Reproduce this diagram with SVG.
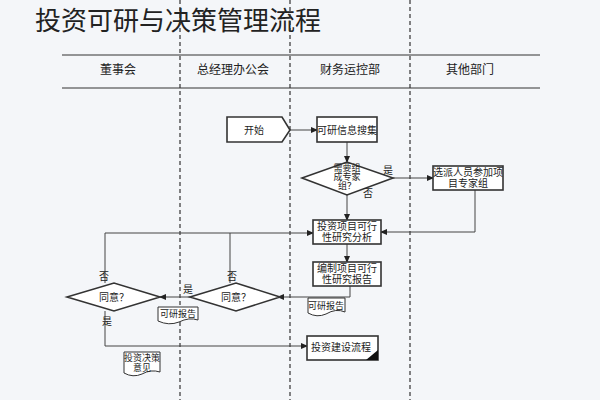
<svg xmlns="http://www.w3.org/2000/svg" width="600" height="400" viewBox="0 0 600 400">
<style>
text{font-family:"Liberation Serif","Noto Sans CJK SC",serif;fill:#222;}
.n{fill:#fff;stroke:#333;stroke-width:1.6;}
.t{font-size:10px;text-anchor:middle;}
.h{font-size:12px;text-anchor:middle;}
.c{fill:none;stroke:#444;stroke-width:1;}
.d{stroke:#333;stroke-width:1.2;stroke-dasharray:4,3;}
</style>
<defs><marker id="a" markerWidth="7" markerHeight="7" refX="6" refY="3.5" orient="auto"><path d="M0,0.5L7,3.5L0,6.5z" fill="#222"/></marker></defs>
<rect width="600" height="400" fill="#f4f6f9"/>
<text x="35" y="30" style="font-size:26px;font-family:'Noto Sans CJK SC',sans-serif">投资可研与决策管理流程</text>
<g id="lanes">
<line x1="62" y1="55" x2="540" y2="55" stroke="#333"/>
<line x1="62" y1="88" x2="540" y2="88" stroke="#333"/>
<line class="d" x1="180" y1="0" x2="180" y2="400"/>
<line class="d" x1="290" y1="0" x2="290" y2="400"/>
<line class="d" x1="410" y1="0" x2="410" y2="400"/>
<text class="h" x="118" y="74">董事会</text>
<text class="h" x="233" y="74">总经理办公会</text>
<text class="h" x="350" y="74">财务运控部</text>
<text class="h" x="470" y="74">其他部门</text>
</g>
<g id="connectors">
<path class="c" d="M282,130H317" marker-end="url(#a)"/>
<path class="c" d="M347,142V162" marker-end="url(#a)"/>
<path class="c" d="M393,178H433" marker-end="url(#a)"/>
<path class="c" d="M347,195V220" marker-end="url(#a)"/>
<path class="c" d="M475,190V232H381" marker-end="url(#a)"/>
<path class="c" d="M105,283V233H313" marker-end="url(#a)"/>
<path class="c" d="M230,283V233"/>
<path class="c" d="M347,244V262" marker-end="url(#a)"/>
<path class="c" d="M350,286V297H278" marker-end="url(#a)"/>
<path class="c" d="M190,297H160" marker-end="url(#a)"/>
<path class="c" d="M105,311V346H307" marker-end="url(#a)"/>
</g>
<g id="start"><path class="n" d="M227,117H282L290,130L282,142H227Z"/><text class="t" x="254" y="134">开始</text></g>
<g id="collect"><rect class="n" x="317" y="117" width="60" height="25"/><text class="t" x="347" y="134">可研信息搜集</text></g>
<g id="need"><path class="n" d="M302,178L347,162L393,178L347,195Z"/><text class="t" x="347" y="171" style="font-size:9px">需要组</text><text class="t" x="347" y="180" style="font-size:9px">成专家</text><text class="t" x="347" y="189" style="font-size:9px">组？</text>
<text class="t" x="388" y="174">是</text><text class="t" x="368" y="197">否</text></g>
<g id="assign"><rect class="n" x="433" y="166" width="70" height="24"/><text class="t" x="468" y="176">选派人员参加项</text><text class="t" x="468" y="187">目专家组</text></g>
<g id="analysis"><rect class="n" x="313" y="220" width="68" height="24"/><text class="t" x="347" y="230">投资项目可行</text><text class="t" x="347" y="241">性研究分析</text></g>
<g id="report"><rect class="n" x="313" y="262" width="68" height="24"/><text class="t" x="347" y="272">编制项目可行</text><text class="t" x="347" y="283">性研究报告</text></g>
<g id="doc1"><path class="n" style="stroke-width:1" d="M308,298H345V312Q336,308 326,314Q317,318 308,313Z"/><text class="t" x="326" y="309" style="font-size:9px">可研报告</text></g>
<g id="agree2"><path class="n" d="M190,297L236,283L280,297L236,311Z"/><text class="t" x="236" y="301">同意？</text><text class="t" x="232" y="280">否</text><text class="t" x="188" y="293">是</text></g>
<g id="doc2"><path class="n" style="stroke-width:1" d="M158,307H198V320Q189,317 179,322Q169,326 158,321Z"/><text class="t" x="178" y="317" style="font-size:9px">可研报告</text></g>
<g id="agree1"><path class="n" d="M67,297L114,283L160,297L114,311Z"/><text class="t" x="114" y="301">同意？</text><text class="t" x="104" y="280">否</text><text class="t" x="107" y="325">是</text></g>
<g id="doc3"><path class="n" style="stroke-width:1" d="M124,352H160V372Q151,369 142,374Q133,378 124,373Z"/><text class="t" x="142" y="361" style="font-size:9px">投资决策</text><text class="t" x="142" y="371" style="font-size:9px">意见</text></g>
<g id="build"><rect class="n" x="307" y="336" width="71" height="24"/><path d="M378,350V360H366Z" fill="#111"/><text class="t" x="341" y="351">投资建设流程</text></g>
</svg>
